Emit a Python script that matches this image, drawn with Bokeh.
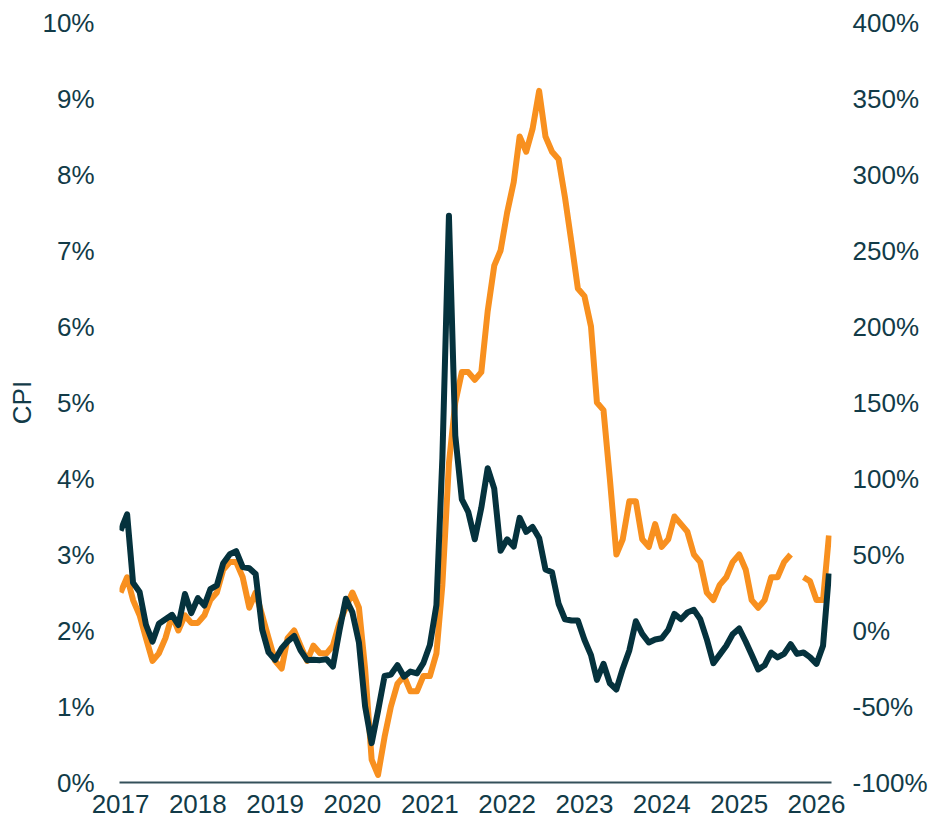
import numpy as np
import pandas as pd
from datetime import datetime
from bokeh.plotting import figure
from bokeh.models import (Range1d, LinearAxis, FixedTicker, PrintfTickFormatter,
                          DatetimeTickFormatter, ColumnDataSource)
from bokeh.embed import file_html
from bokeh.resources import INLINE

# ---------------- data ----------------
months = pd.date_range("2017-01-01", "2026-03-01", freq="MS")

# CPI, year over year (%), left axis. Oct 2025 missing.
cpi = [
    2.5, 2.7, 2.4, 2.2, 1.9, 1.6, 1.7, 1.9, 2.2, 2.0, 2.2, 2.1,   # 2017
    2.1, 2.2, 2.4, 2.5, 2.8, 2.9, 2.9, 2.7, 2.3, 2.5, 2.2, 1.9,   # 2018
    1.6, 1.5, 1.9, 2.0, 1.8, 1.6, 1.8, 1.7, 1.7, 1.8, 2.1, 2.3,   # 2019
    2.5, 2.3, 1.5, 0.3, 0.1, 0.6, 1.0, 1.3, 1.4, 1.2, 1.2, 1.4,   # 2020
    1.4, 1.7, 2.6, 4.2, 5.0, 5.4, 5.4, 5.3, 5.4, 6.2, 6.8, 7.0,   # 2021
    7.5, 7.9, 8.5, 8.3, 8.6, 9.1, 8.5, 8.3, 8.2, 7.7, 7.1, 6.5,   # 2022
    6.4, 6.0, 5.0, 4.9, 4.0, 3.0, 3.2, 3.7, 3.7, 3.2, 3.1, 3.4,   # 2023
    3.1, 3.2, 3.5, 3.4, 3.3, 3.0, 2.9, 2.5, 2.4, 2.6, 2.7, 2.9,   # 2024
    3.0, 2.8, 2.4, 2.3, 2.4, 2.7, 2.7, 2.9, 3.0, np.nan, 2.7, 2.65,  # 2025
    2.4, 2.4, 3.25,                                              # 2026
]

# Oil price, year over year (%), right axis
oil = [
    65.7, 76.4, 31.4, 25.3, 3.8, -7.3, 4.4, 7.4, 10.3, 3.6, 24.0, 11.4,          # 2017
    21.3, 16.4, 27.2, 29.7, 44.3, 50.2, 52.2, 41.7, 41.0, 37.2, 0.6, -14.4,      # 2018
    -19.3, -11.7, -7.3, -3.6, -13.1, -19.5, -19.2, -19.5, -18.9, -23.7, 0.1, 20.9,  # 2019
    12.0, -8.0, -49.8, -74.1, -53.0, -29.9, -29.0, -22.8, -30.4, -27.0, -28.2, -21.5,  # 2020
    -9.6, 16.8, 113.4, 272.9, 128.2, 86.3, 78.1, 60.0, 80.8, 106.8, 93.3, 52.5,  # 2021
    60.0, 55.2, 74.1, 64.9, 68.1, 60.9, 40.2, 38.3, 17.6, 7.4, 6.6, 6.6,         # 2022
    -6.1, -16.2, -32.5, -21.9, -34.7, -38.8, -25.1, -13.1, 6.1, -2.2, -7.9, -5.9,  # 2023
    -5.1, 0.5, 10.9, 7.4, 11.8, 13.6, 7.5, -5.8, -21.5, -15.9, -10.0, -2.5,      # 2024
    1.3, -7.4, -16.0, -25.6, -22.9, -14.5, -17.7, -15.4, -9.0, -15.4, -14.5, -17.5,  # 2025
    -22.0, -10.0, 37.5,                                                          # 2026
]

year_ticks = [2017, 2018, 2019, 2020, 2021, 2022, 2023, 2024, 2025, 2026]
left_ticks = [0, 1, 2, 3, 4, 5, 6, 7, 8, 9, 10]
right_ticks = [-100, -50, 0, 50, 100, 150, 200, 250, 300, 350, 400]

# ---------------- styling ----------------
ORANGE = "#F8901F"
DARK = "#05323D"
TEXT = "#123B48"
FONT = "Liberation Sans"
FS = "26px"

src = ColumnDataSource(dict(date=months, cpi=cpi, oil=oil))

p = figure(width=930, height=828, x_axis_type="datetime",
           output_backend="svg", toolbar_location=None,
           x_range=Range1d(start=datetime(2016, 12, 27), end=datetime(2026, 3, 13)),
           y_range=Range1d(start=0, end=10),
           min_border_left=119, min_border_right=98,
           min_border_top=22, min_border_bottom=46)
p.extra_y_ranges = {"right": Range1d(start=-100, end=400)}

p.outline_line_color = None
p.xgrid.visible = False
p.ygrid.visible = False
p.background_fill_color = "white"
p.border_fill_color = "white"

p.line("date", "cpi", source=src, color=ORANGE, line_width=6, line_join="round")
p.line("date", "oil", source=src, color=DARK, line_width=6, line_join="round",
       y_range_name="right")

# bottom axis
xa = p.xaxis[0]
xa.ticker = FixedTicker(ticks=[datetime(y, 1, 1).timestamp() * 1000 for y in year_ticks])
xa.formatter = DatetimeTickFormatter(years="%Y", months="%Y", days="%Y", hours="%Y")
xa.axis_line_color = "#34505A"
xa.axis_line_width = 2
xa.major_tick_line_color = None
xa.minor_tick_line_color = None
xa.major_tick_out = 0
xa.major_label_standoff = 12
xa.major_label_text_font = FONT
xa.major_label_text_font_size = FS
xa.major_label_text_color = TEXT

# left axis
ya = p.yaxis[0]
ya.ticker = FixedTicker(ticks=left_ticks)
ya.formatter = PrintfTickFormatter(format="%d%%")
ya.axis_line_color = None
ya.major_tick_line_color = None
ya.minor_tick_line_color = None
ya.major_tick_out = 0
ya.major_label_standoff = 25
ya.major_label_text_font = FONT
ya.major_label_text_font_size = FS
ya.major_label_text_color = TEXT
ya.axis_label = "CPI"
ya.axis_label_text_font = FONT
ya.axis_label_text_font_size = FS
ya.axis_label_text_font_style = "normal"
ya.axis_label_text_color = TEXT
ya.axis_label_standoff = 2

# right axis
ra = LinearAxis(y_range_name="right", ticker=FixedTicker(ticks=right_ticks),
                formatter=PrintfTickFormatter(format="%d%%"))
ra.axis_line_color = None
ra.major_tick_line_color = None
ra.minor_tick_line_color = None
ra.major_tick_out = 0
ra.major_label_standoff = 21
ra.major_label_text_font = FONT
ra.major_label_text_font_size = FS
ra.major_label_text_color = TEXT
p.add_layout(ra, "right")

open("out.html", "w").write(file_html(p, INLINE))
